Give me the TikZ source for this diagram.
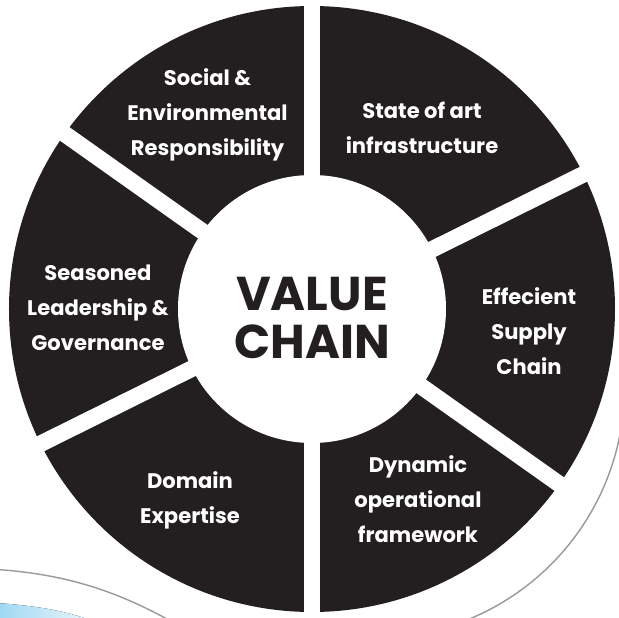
\documentclass[tikz,border=0pt]{standalone}
\usepackage{fontspec}
\setmainfont{Poppins}
\definecolor{chainblack}{HTML}{231F20}
\definecolor{swooshblue}{HTML}{9ED8F2}
\tikzset{
  sectortext/.style={text=white, font=\bfseries\fontsize{12}{20}\selectfont, align=center},
  gap/.style={white, line width=0.33cm},
  outline/.style={gray!80, line width=0.8pt}
}
\begin{document}
\begin{tikzpicture}
  \useasboundingbox (-6.24,-6.16) rectangle (6.14,6.18);
  \coordinate (C) at (0,0);
  \coordinate (R) at (1.23,-1.56);

  \fill[left color=swooshblue, right color=swooshblue!25] (-6.3,-5.88) .. controls (-5.6,-5.93) and (-5.0,-6.02) .. (-4.5,-6.2) -- (-6.3,-6.2) -- cycle;
  \draw[outline] (-6.3,-5.21) .. controls (-5.0,-5.3) and (-4.0,-5.6) .. (-2.9,-6.2);
  \draw[outline] (R) ++(-5:5.02) arc[start angle=-5, end angle=-80, radius=5.02];

  \fill[chainblack] (C) circle (6.06);
  \begin{scope}
    \clip (C) circle (6.1);
    \foreach \a in {90,26.4,-35.3}
      \draw[gap] (\a:6.2) -- (\a+180:6.2);
  \end{scope}
  \fill[white] (C) circle (2.68);

  \node[sectortext] (social) at (-2.09,3.89) {Social \&\\Environmental\\Responsibility};
  \node[sectortext] (infra) at (2.2,3.63) {State of art\\infrastructure};
  \node[sectortext] (supply) at (4.34,-0.44) {Effecient\\Supply\\Chain};
  \node[sectortext] (framework) at (2.12,-3.8) {Dynamic\\operational\\framework};
  \node[sectortext] (expertise) at (-2.44,-3.82) {Domain\\Expertise};
  \node[sectortext] (leadership) at (-4.28,0.02) {Seasoned\\Leadership \&\\Governance};
  \node[text=chainblack, font=\bfseries\fontsize{27}{27}\selectfont, align=center] (value) at (0,-0.18) {VALUE\\CHAIN};
\end{tikzpicture}
\end{document}
